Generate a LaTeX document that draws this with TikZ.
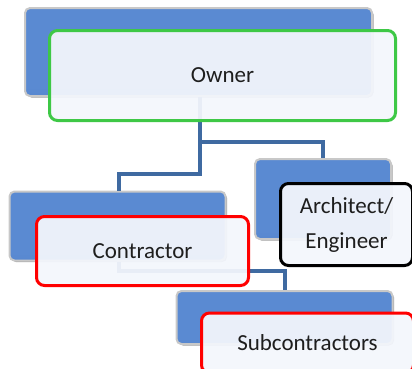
\documentclass[tikz,border=0pt]{standalone}
\usepackage{fontspec}
\setmainfont{Carlito}
\usetikzlibrary{shadows}
\definecolor{conn}{HTML}{3F6AA1}
\definecolor{bluetop}{HTML}{8CB6EE}
\definecolor{bluemid}{HTML}{5A8AD2}
\definecolor{bluebot}{HTML}{4A7BC2}
\definecolor{bevel}{HTML}{C8C8C8}
\definecolor{paper}{HTML}{F3F6FC}
\definecolor{okgreen}{HTML}{3EC846}
\definecolor{txt}{HTML}{1E1E1E}
\pgfdeclareverticalshading{bluebev}{100bp}{color(0bp)=(bluebot); color(30bp)=(bluemid); color(88bp)=(bluemid); color(96bp)=(bluetop); color(100bp)=(bluetop)}
\tikzset{
  bluebox/.style={rectangle, rounded corners=5pt, draw=bevel, line width=2pt,
    shading=bluebev, inner sep=0pt,
    general shadow={shadow xshift=1.5pt, shadow yshift=-1.5pt, fill=gray!75}},
  whitebox/.style={rectangle, rounded corners=8pt, line width=3pt, fill=paper,
    fill opacity=0.94, text opacity=1, inner sep=0pt, text=txt,
    font=\fontsize{23}{35}\selectfont, align=center},
  connector/.style={draw=conn, line width=4pt},
}
\begin{document}
\begin{tikzpicture}[x=1pt,y=-1pt]
\useasboundingbox (0,0) rectangle (412,368);
\clip (0,0) rectangle (412,368);
% blue back boxes
\node[bluebox, minimum width=347pt, minimum height=88pt] (bOwner) at (198.5,52) {};
\node[bluebox, minimum width=136pt, minimum height=80pt] (bArch) at (323,199) {};
\node[bluebox, minimum width=216pt, minimum height=69pt] (bCon) at (117.5,226) {};
\node[bluebox, minimum width=216pt, minimum height=53pt] (bSub) at (284.5,317.5) {};
% connector junctions
\coordinate (j1) at (199.5,142);
\coordinate (j2) at (199.5,174);
\coordinate (j3) at (119,271);
\coordinate (cTop) at (119,0);
% connectors
\draw[connector] (bOwner.south -| j1) -- (j1) -| (bArch.north);
\draw[connector] (j1) -- (j2) -| (bCon.north -| cTop);
\draw[connector] (bCon.south -| j3) -- (j3) -| (bSub.north);
% front text boxes
\node[whitebox, draw=okgreen, minimum width=346pt, minimum height=90pt] (owner) at (222.5,75.5) {Owner};
\node[whitebox, draw=black, minimum width=132pt, minimum height=82pt] (arch) at (346.5,224.5) {Architect/\\Engineer};
\node[whitebox, draw=red, minimum width=212pt, minimum height=69pt] (con) at (142.5,251) {Contractor};
\node[whitebox, draw=red, minimum width=212pt, minimum height=60pt] (sub) at (307.5,343) {Subcontractors};
\end{tikzpicture}
\end{document}
